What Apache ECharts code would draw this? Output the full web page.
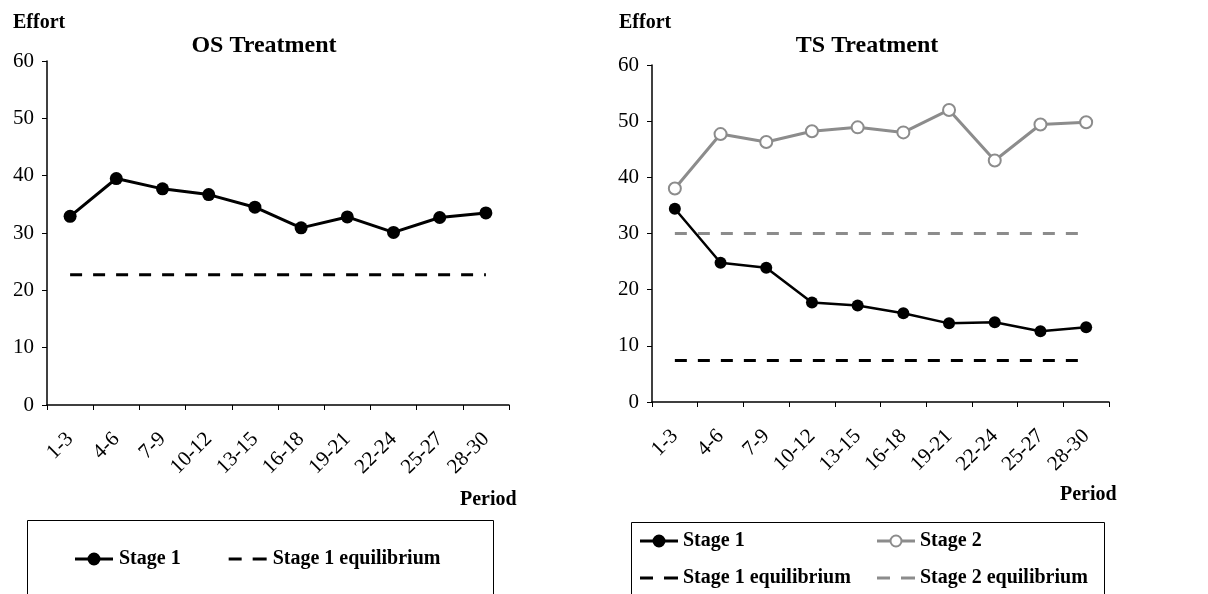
<!DOCTYPE html>
<html>
<head>
<meta charset="utf-8">
<script src="https://cdn.jsdelivr.net/npm/echarts@6/dist/echarts.min.js"></script>
<style>
html,body{margin:0;padding:0;background:#fff;}
#chart{width:1208px;height:594px;}
</style>
</head>
<body>
<div id="chart"></div>
<script>
const periods = ['1-3','4-6','7-9','10-12','13-15','16-18','19-21','22-24','25-27','28-30'];
const yTicks = [0, 10, 20, 30, 40, 50, 60];
const osStage1 = [32.9, 39.5, 37.7, 36.7, 34.5, 30.9, 32.8, 30.1, 32.7, 33.5];
const osStage1Eq = [22.7, 22.7, 22.7, 22.7, 22.7, 22.7, 22.7, 22.7, 22.7, 22.7];
const tsStage1 = [34.4, 24.8, 23.9, 17.7, 17.2, 15.8, 14.0, 14.2, 12.6, 13.3];
const tsStage2 = [38.0, 47.7, 46.3, 48.2, 48.9, 48.0, 52.0, 43.0, 49.4, 49.8];
const tsStage1Eq = [7.4, 7.4, 7.4, 7.4, 7.4, 7.4, 7.4, 7.4, 7.4, 7.4];
const tsStage2Eq = [30.0, 30.0, 30.0, 30.0, 30.0, 30.0, 30.0, 30.0, 30.0, 30.0];

const FONT = '"Liberation Serif", "Times New Roman", serif';
const GREY = '#8c8c8c';

// legend icon shapes (decoration only)
const DASH_ICON = 'path://M0,0L0.01,0L0,0.01Z M0,5.5h13v3h-13Z M24,5.5h14v3h-14Z M38,14L37.99,14L38,13.99Z';
const SOLID_DOT_ICON = 'path://M0,0L0.01,0L0,0.01Z M0,5.5h38v3h-38Z M12.5,7a6.5,6.5 0 1,1 13,0a6.5,6.5 0 1,1 -13,0Z M38,14L37.99,14L38,13.99Z';
const OPEN_DOT_ICON = 'path://M0,0L0.01,0L0,0.01Z M0,5.5h13v3h-13Z M25,5.5h13v3h-13Z M12.5,7a6.5,6.5 0 1,1 13,0a6.5,6.5 0 1,1 -13,0Z M14.5,7a4.5,4.5 0 1,0 9,0a4.5,4.5 0 1,0 -9,0Z M38,14L37.99,14L38,13.99Z';

const chart = echarts.init(document.getElementById('chart'), null, {renderer: 'canvas'});

function xAxisFor(gridIndex) {
  return {
    type: 'category', gridIndex, data: periods, boundaryGap: true,
    axisLine: {lineStyle: {color: '#000', width: 1.5}},
    axisTick: {show: true, length: 5, inside: false, lineStyle: {color: '#000'}},
    axisLabel: {rotate: 45, margin: 31, color: '#000', fontFamily: FONT, fontSize: 21, interval: 0}
  };
}
function yAxisFor(gridIndex) {
  return {
    type: 'value', gridIndex, min: yTicks[0], max: yTicks[yTicks.length - 1], interval: yTicks[1] - yTicks[0],
    axisLine: {show: true, lineStyle: {color: '#000', width: 1.5}},
    axisTick: {show: true, length: 5, lineStyle: {color: '#000'}},
    splitLine: {show: false},
    axisLabel: {margin: 13, color: '#000', fontFamily: FONT, fontSize: 21}
  };
}
const eqStyle = (color) => ({color, width: 3, type: [12, 11]});
const legendText = {fontFamily: FONT, fontWeight: 'bold', fontSize: 20, color: '#000'};

const option = {
  animation: false,
  backgroundColor: '#fff',
  title: [
    {text: 'Effort', left: 8, top: 8, textStyle: {fontFamily: FONT, fontWeight: 'bold', fontSize: 20, color: '#000'}},
    {text: 'Effort', left: 614, top: 8, textStyle: {fontFamily: FONT, fontWeight: 'bold', fontSize: 20, color: '#000'}},
    {text: 'OS Treatment', left: 259, top: 29, textAlign: 'center', textStyle: {fontFamily: FONT, fontWeight: 'bold', fontSize: 24, color: '#000'}},
    {text: 'TS Treatment', left: 862, top: 29, textAlign: 'center', textStyle: {fontFamily: FONT, fontWeight: 'bold', fontSize: 24, color: '#000'}},
    {text: 'Period', left: 455, top: 485, textStyle: {fontFamily: FONT, fontWeight: 'bold', fontSize: 20, color: '#000'}},
    {text: 'Period', left: 1055, top: 480, textStyle: {fontFamily: FONT, fontWeight: 'bold', fontSize: 20, color: '#000'}}
  ],
  graphic: [
    {type: 'rect', shape: {x: 27.5, y: 520.5, width: 466, height: 90}, style: {fill: 'none', stroke: '#000', lineWidth: 1}, silent: true},
    {type: 'rect', shape: {x: 631.5, y: 522.5, width: 473, height: 90}, style: {fill: 'none', stroke: '#000', lineWidth: 1}, silent: true}
  ],
  legend: [
    {data: [
       {name: 'Stage 1', icon: SOLID_DOT_ICON, itemStyle: {color: '#000', borderWidth: 0}},
       {name: 'Stage 1 equilibrium', icon: DASH_ICON, itemStyle: {color: '#000', borderWidth: 0}}
     ], left: 75, top: 549, padding: 0, orient: 'horizontal', itemWidth: 40, itemHeight: 14, itemGap: 48,
     textStyle: legendText},
    {data: [
       {name: 'Stage 1', icon: SOLID_DOT_ICON, itemStyle: {color: '#000', borderWidth: 0}},
       {name: 'Stage 1 equilibrium', icon: DASH_ICON, itemStyle: {color: '#000', borderWidth: 0}}
     ], left: 640, top: 531, padding: 0, orient: 'vertical', itemWidth: 38, itemHeight: 14, itemGap: 17,
     textStyle: legendText},
    {data: [
       {name: 'Stage 2', icon: OPEN_DOT_ICON, itemStyle: {color: GREY, borderWidth: 0}},
       {name: 'Stage 2 equilibrium', icon: DASH_ICON, itemStyle: {color: GREY, borderWidth: 0}}
     ], left: 877, top: 531, padding: 0, orient: 'vertical', itemWidth: 38, itemHeight: 14, itemGap: 17,
     textStyle: legendText}
  ],
  grid: [
    {left: 47, top: 61, width: 462, height: 344, containLabel: false},
    {left: 652, top: 65, width: 457, height: 337, containLabel: false}
  ],
  xAxis: [xAxisFor(0), xAxisFor(1)],
  yAxis: [yAxisFor(0), yAxisFor(1)],
  series: [
    {name: 'Stage 1 equilibrium', type: 'line', xAxisIndex: 0, yAxisIndex: 0, data: osStage1Eq, symbol: 'none',
     lineStyle: eqStyle('#000'), itemStyle: {color: '#000'}},
    {name: 'Stage 1', type: 'line', xAxisIndex: 0, yAxisIndex: 0, data: osStage1, symbol: 'circle', symbolSize: 13,
     lineStyle: {color: '#000', width: 3}, itemStyle: {color: '#000'}},
    {name: 'Stage 2 equilibrium', type: 'line', xAxisIndex: 1, yAxisIndex: 1, data: tsStage2Eq, symbol: 'none',
     lineStyle: eqStyle(GREY), itemStyle: {color: GREY}},
    {name: 'Stage 1 equilibrium', type: 'line', xAxisIndex: 1, yAxisIndex: 1, data: tsStage1Eq, symbol: 'none',
     lineStyle: eqStyle('#000'), itemStyle: {color: '#000'}},
    {name: 'Stage 2', type: 'line', xAxisIndex: 1, yAxisIndex: 1, data: tsStage2, symbol: 'circle', symbolSize: 12,
     showAllSymbol: true,
     lineStyle: {color: GREY, width: 3}, itemStyle: {color: '#fff', borderColor: GREY, borderWidth: 2}},
    {name: 'Stage 1', type: 'line', xAxisIndex: 1, yAxisIndex: 1, data: tsStage1, symbol: 'circle', symbolSize: 12,
     lineStyle: {color: '#000', width: 2.5}, itemStyle: {color: '#000'}}
  ]
};
chart.setOption(option);
</script>
</body>
</html>
